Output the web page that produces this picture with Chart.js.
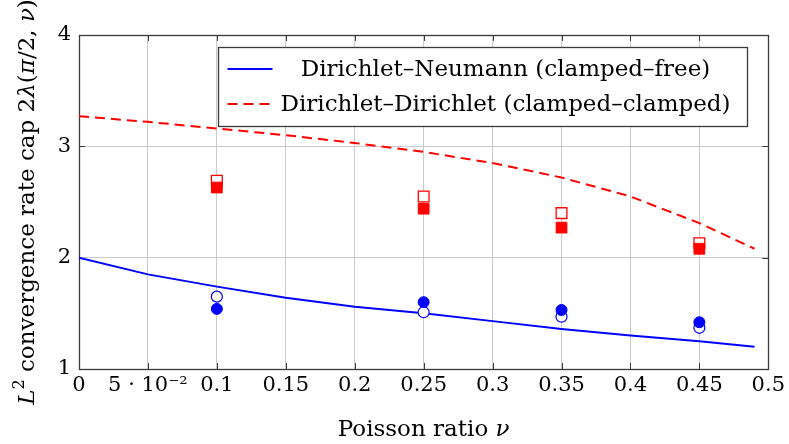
<!DOCTYPE html>
<html>
<head>
<meta charset="utf-8">
<script src="https://cdn.jsdelivr.net/npm/chart.js@4/dist/chart.umd.min.js"></script>
<style>
  html, body { margin: 0; padding: 0; background: #fff; }
  #wrap { width: 789px; height: 444px; }
</style>
</head>
<body>
<div id="wrap"><canvas id="c" width="789" height="444"></canvas></div>
<script>
// Poisson ratio samples for the analytic caps
const nuCurve = [0, 0.05, 0.1, 0.15, 0.2, 0.25, 0.3, 0.35, 0.4, 0.45, 0.49];
// Analytic cap 2λ(π/2, ν): clamped–free and clamped–clamped corners
const capClampedFree = [2.00, 1.85, 1.74, 1.64, 1.56, 1.50, 1.43, 1.36, 1.30, 1.25, 1.20];
const capClampedClamped = [3.27, 3.22, 3.16, 3.10, 3.03, 2.95, 2.85, 2.72, 2.55, 2.31, 2.08];

// Observed convergence rates at selected ν
const nuSamples = [0.1, 0.25, 0.35, 0.45];
const freeOpen = [1.65, 1.51, 1.47, 1.37];
const freeFilled = [1.54, 1.60, 1.53, 1.42];
const clampedOpen = [2.69, 2.55, 2.40, 2.13];
const clampedFilled = [2.63, 2.44, 2.27, 2.08];

// Axis ticks and labels
const xTicks = [0, 0.05, 0.1, 0.15, 0.2, 0.25, 0.3, 0.35, 0.4, 0.45, 0.5];
const xTickLabels = ['0', '5 · 10⁻²', '0.1', '0.15', '0.2', '0.25', '0.3', '0.35', '0.4', '0.45', '0.5'];
const yTicks = [1, 2, 3, 4];
const yTickLabels = ['1', '2', '3', '4'];

const seriesNames = ['Dirichlet–Neumann (clamped–free)', 'Dirichlet–Dirichlet (clamped–clamped)'];

const FONT = 'DejaVu Serif';
const FS = 21;
const TITLE_FS = 23;
const BLUE = '#0000ff';
const RED = '#ff0000';

const pts = (xs, ys) => xs.map((x, i) => ({ x: x, y: ys[i] }));

// Rich text: segments may be italic or superscript
function richWidth(ctx, segs, size) {
  let w = 0;
  for (const s of segs) {
    const sz = s.sup ? size * 0.7 : size;
    ctx.font = (s.italic ? 'italic ' : '') + sz + 'px "' + FONT + '"';
    w += ctx.measureText(s.t).width;
  }
  return w;
}
function drawRich(ctx, segs, cx, baseY, size) {
  const total = richWidth(ctx, segs, size);
  let x = cx - total / 2;
  ctx.textAlign = 'left';
  ctx.textBaseline = 'alphabetic';
  for (const s of segs) {
    const sz = s.sup ? size * 0.7 : size;
    ctx.font = (s.italic ? 'italic ' : '') + sz + 'px "' + FONT + '"';
    ctx.fillText(s.t, x, s.sup ? baseY - size * 0.42 : baseY);
    x += ctx.measureText(s.t).width;
  }
}

const yTitle = [
  { t: 'L', italic: true }, { t: '2', sup: true },
  { t: ' convergence rate cap 2' }, { t: 'λ', italic: true }, { t: '(' },
  { t: 'π', italic: true }, { t: '/2, ' }, { t: 'ν', italic: true }, { t: ')' }
];
const xTitle = [{ t: 'Poisson ratio ' }, { t: 'ν', italic: true }];

// Frame with inward tick marks, drawn over the grid
const framePlugin = {
  id: 'frame',
  beforeDatasetsDraw(chart) {
    const { ctx, chartArea: a, scales: { x, y } } = chart;
    ctx.save();
    ctx.strokeStyle = '#3a3a3a';
    ctx.lineWidth = 1;
    ctx.beginPath();
    for (const v of xTicks) {
      const px = Math.round(x.getPixelForValue(v)) + 0.5;
      ctx.moveTo(px, a.bottom); ctx.lineTo(px, a.bottom - 6);
      ctx.moveTo(px, a.top); ctx.lineTo(px, a.top + 6);
    }
    for (const v of yTicks) {
      const py = Math.round(y.getPixelForValue(v)) + 0.5;
      ctx.moveTo(a.left, py); ctx.lineTo(a.left + 6, py);
      ctx.moveTo(a.right, py); ctx.lineTo(a.right - 6, py);
    }
    ctx.stroke();
    ctx.lineWidth = 1.3;
    ctx.strokeRect(Math.round(a.left) + 0.5, Math.round(a.top) + 0.5,
                   Math.round(a.right - a.left), Math.round(a.bottom - a.top));
    ctx.restore();
  }
};

// Axis titles and the boxed legend inside the plot
const annotatePlugin = {
  id: 'annotate',
  afterDraw(chart) {
    const { ctx, chartArea: a } = chart;
    ctx.save();
    ctx.fillStyle = '#000';
    drawRich(ctx, xTitle, (a.left + a.right) / 2, 436, TITLE_FS);
    ctx.save();
    ctx.translate(34, (a.top + a.bottom) / 2);
    ctx.rotate(-Math.PI / 2);
    drawRich(ctx, yTitle, 0, 0, TITLE_FS);
    ctx.restore();

    // legend
    const lfs = 23;
    ctx.font = lfs + 'px "' + FONT + '"';
    const tw = Math.max(...seriesNames.map(s => ctx.measureText(s).width));
    const boxW = 9 + 45 + 8 + tw + 17;
    const boxH = 79;
    const bx = Math.round(a.right - 21 - boxW) + 0.5;
    const by = Math.round(a.top + 12) + 0.5;
    ctx.fillStyle = '#fff';
    ctx.fillRect(bx, by, boxW, boxH);
    ctx.strokeStyle = '#3a3a3a';
    ctx.lineWidth = 1.3;
    ctx.strokeRect(bx, by, boxW, boxH);
    const legendSets = chart.data.datasets.filter(d => seriesNames.includes(d.label));
    legendSets.forEach((d, i) => {
      const ry = by + 21.5 + i * 35;
      ctx.strokeStyle = d.borderColor;
      ctx.lineWidth = d.borderWidth;
      ctx.setLineDash(d.borderDash || []);
      ctx.beginPath();
      ctx.moveTo(bx + 9, ry); ctx.lineTo(bx + 54, ry);
      ctx.stroke();
      ctx.setLineDash([]);
      ctx.fillStyle = '#000';
      ctx.font = lfs + 'px "' + FONT + '"';
      ctx.textAlign = 'center';
      ctx.textBaseline = 'middle';
      ctx.fillText(d.label, bx + 62 + tw / 2, ry + 1);
    });
    ctx.restore();
  }
};

const tickFont = { family: FONT, size: FS };

new Chart(document.getElementById('c'), {
  type: 'scatter',
  data: {
    datasets: [
      { label: 'clamped–free observed (filled)', data: pts(nuSamples, freeFilled),
        pointStyle: 'circle', pointRadius: 5.5, backgroundColor: BLUE, borderColor: BLUE,
        borderWidth: 1, order: 1 },
      { label: 'clamped–free observed (open)', data: pts(nuSamples, freeOpen),
        pointStyle: 'circle', pointRadius: 5.5, backgroundColor: '#fff', borderColor: BLUE,
        borderWidth: 1.2, order: 2 },
      { label: 'clamped–clamped observed (filled)', data: pts(nuSamples, clampedFilled),
        pointStyle: 'rect', pointRadius: 7.6, backgroundColor: RED, borderColor: RED,
        borderWidth: 1, order: 1 },
      { label: 'clamped–clamped observed (open)', data: pts(nuSamples, clampedOpen),
        pointStyle: 'rect', pointRadius: 7.6, backgroundColor: '#fff', borderColor: RED,
        borderWidth: 1.3, order: 2 },
      { label: seriesNames[0], data: pts(nuCurve, capClampedFree), showLine: true,
        pointRadius: 0, borderColor: BLUE, borderWidth: 2, order: 3 },
      { label: seriesNames[1], data: pts(nuCurve, capClampedClamped), showLine: true,
        pointRadius: 0, borderColor: RED, borderWidth: 2, borderDash: [10, 6], order: 3 }
    ]
  },
  options: {
    responsive: false,
    animation: false,
    devicePixelRatio: 1,
    layout: { padding: { top: 35, right: 18, left: 0, bottom: 0 } },
    plugins: { legend: { display: false }, tooltip: { enabled: false } },
    scales: {
      x: {
        type: 'linear', min: 0, max: 0.5,
        afterBuildTicks: s => { s.ticks = xTicks.map(v => ({ value: v })); },
        afterFit: s => { s.height = 75; },
        ticks: { callback: (v, i) => xTickLabels[i], font: tickFont, color: '#000',
                 padding: 4, maxRotation: 0, minRotation: 0, autoSkip: false },
        grid: { color: '#cbcbcb', lineWidth: 1, drawTicks: false },
        border: { display: false }
      },
      y: {
        type: 'linear', min: 1, max: 4,
        afterBuildTicks: s => { s.ticks = yTicks.map(v => ({ value: v })); },
        afterFit: s => { s.width = 79; },
        ticks: { callback: (v, i) => yTickLabels[i], font: tickFont, color: '#000',
                 padding: 8, autoSkip: false },
        grid: { color: '#cbcbcb', lineWidth: 1, drawTicks: false },
        border: { display: false }
      }
    }
  },
  plugins: [framePlugin, annotatePlugin]
});
</script>
</body>
</html>
